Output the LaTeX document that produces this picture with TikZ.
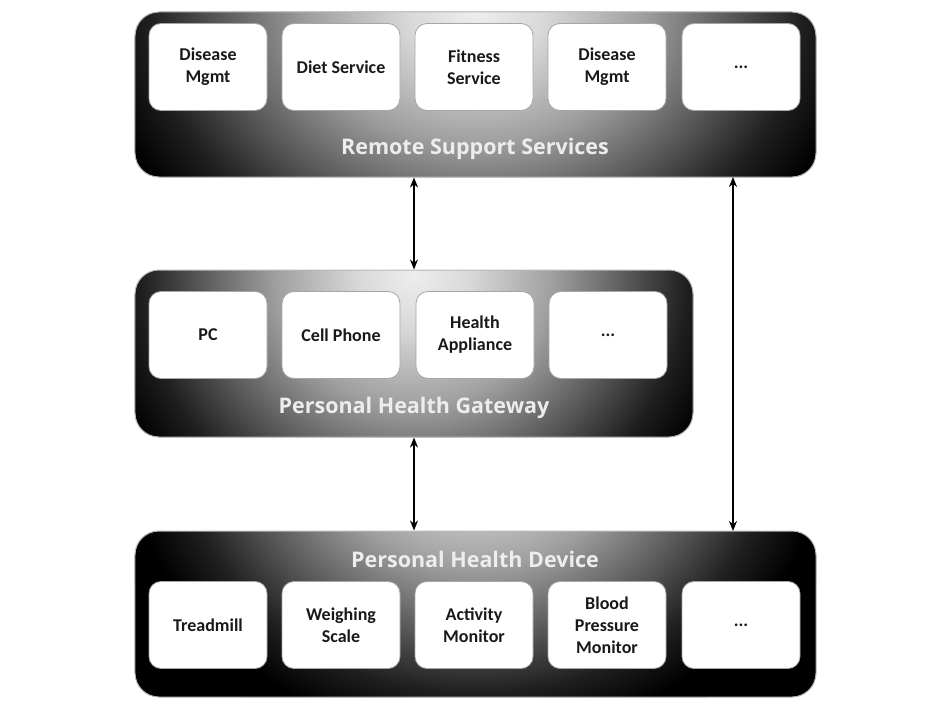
\documentclass[tikz,border=0pt]{standalone}
\usepackage{fontspec}
\setmainfont{Carlito}
\newfontfamily\ttlfont{Open Sans}
\usetikzlibrary{arrows.meta,calc}
\pgfdeclareradialshading{glow}{\pgfpoint{0bp}{0bp}}{color(0bp)=(white!93!black); color(4bp)=(white!85!black); color(10bp)=(white!62!black); color(15bp)=(white!36!black); color(19.5bp)=(white!12!black); color(23bp)=(black); color(50bp)=(black)}
\tikzset{
  bigbox/.style={draw=gray!55, line width=1bp, rounded corners=24bp, fill=black, inner sep=0pt},
  sbox/.style={draw=gray!70, line width=0.8bp, rounded corners=12bp, fill=white, minimum width=118bp, minimum height=87bp, inner sep=2bp, align=center, text=black!90, font=\bfseries\fontsize{18bp}{22bp}\selectfont},
  ttl/.style={text=white!93!black, font=\ttlfont\bfseries\fontsize{21.5bp}{26bp}\selectfont, inner sep=0pt},
  dbl/.style={line width=1.8bp, {Stealth[length=10bp,width=8bp]}-{Stealth[length=10bp,width=8bp]}}
}
\begin{document}
\begin{tikzpicture}[x=1bp,y=-1bp]
\useasboundingbox (0,0) rectangle (950,707);
% top
\node[bigbox, minimum width=681bp, minimum height=165bp,
  path picture={\shade[shading=glow] (path picture bounding box.north) ellipse (420bp and 330bp);}] (top) at (475.5,94.5) {};
\node[ttl] (ttop) at (475,149) {Remote Support Services};
\node[sbox] (t1) at (208,67) {Disease\\Mgmt};
\node[sbox] (t2) at (341,67) {Diet Service};
\node[sbox] (t3) at (474,67) {Fitness\\Service};
\node[sbox] (t4) at (607,67) {Disease\\Mgmt};
\node[sbox] (t5) at (741,67) {...};
% middle
\node[bigbox, minimum width=558bp, minimum height=167bp,
  path picture={\shade[shading=glow] ($(path picture bounding box.north)+(0,-5bp)$) ellipse (350bp and 330bp);}] (mid) at (414,353.5) {};
\node[ttl] (tmid) at (414,408) {Personal Health Gateway};
\node[sbox] (m1) at (208,335) {PC};
\node[sbox] (m2) at (341,335) {Cell Phone};
\node[sbox] (m3) at (475,335) {Health\\Appliance};
\node[sbox] (m4) at (608,335) {...};
% bottom
\node[bigbox, minimum width=681bp, minimum height=166bp,
  path picture={\shade[shading=glow] ($(path picture bounding box.north)+(0,95bp)$) ellipse (380bp and 330bp);}] (bot) at (475.5,614) {};
\node[ttl] (tbot) at (475,559) {Personal Health Device};
\node[sbox] (b1) at (208,625) {Treadmill};
\node[sbox] (b2) at (341,625) {Weighing\\Scale};
\node[sbox] (b3) at (474,625) {Activity\\Monitor};
\node[sbox] (b4) at (607,625) {Blood\\Pressure\\Monitor};
\node[sbox] (b5) at (741,625) {...};
% connectors
\coordinate (r1) at (733,177);
\coordinate (r2) at (733,531);
\draw[dbl] (mid.north |- top.south) -- (mid.north);
\draw[dbl] (mid.south) -- (mid.south |- bot.north);
\draw[dbl] (r1) -- (r2);
\end{tikzpicture}
\end{document}
